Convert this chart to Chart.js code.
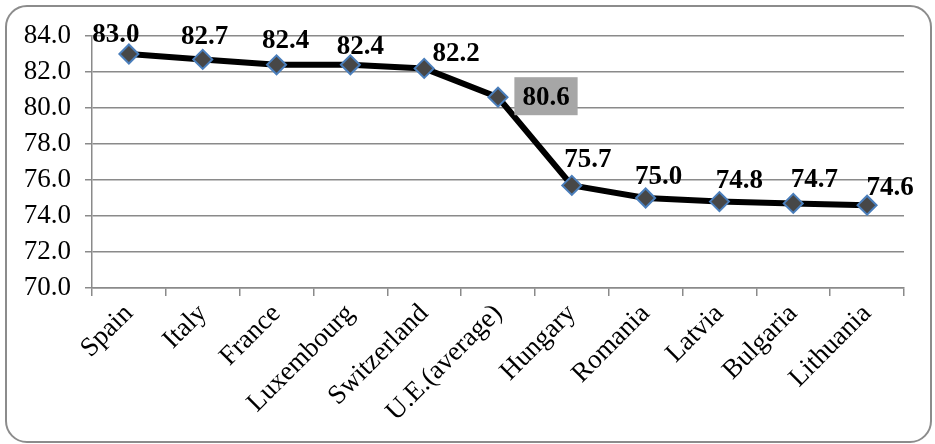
<!DOCTYPE html>
<html>
<head>
<meta charset="utf-8">
<script src="https://cdn.jsdelivr.net/npm/chart.js@4/dist/chart.umd.min.js"></script>
<style>
  html, body { margin: 0; padding: 0; background: #fff; }
  #wrap { width: 935px; height: 444px; position: relative; }
</style>
</head>
<body>
<div id="wrap"><canvas id="c" width="935" height="444"></canvas></div>
<script>
// Life expectancy by country (years)
const countries = ['Spain', 'Italy', 'France', 'Luxembourg', 'Switzerland', 'U.E.(average)',
                   'Hungary', 'Romania', 'Latvia', 'Bulgaria', 'Lithuania'];
const lifeExpectancy = [83.0, 82.7, 82.4, 82.4, 82.2, 80.6, 75.7, 75.0, 74.8, 74.7, 74.6];
const yTicks = [70, 72, 74, 76, 78, 80, 82, 84];

// value label placement: [text centre dx, baseline dy] from the marker, in pixels
const labelShift = [[-13, -12], [2, -15], [9, -17], [10, -11], [32, -7], [48, 8],
                    [16, -18], [13, -14], [20, -14], [21, -16], [23, -10]];
const highlighted = 5; // EU average label gets a shaded box

const FONT = '"Liberation Serif", "Times New Roman", serif';

const frame = {
  id: 'frame',
  beforeDraw(chart) {
    const ctx = chart.ctx;
    ctx.save();
    ctx.fillStyle = '#fff';
    ctx.fillRect(0, 0, chart.width, chart.height);
    ctx.beginPath();
    ctx.roundRect(6, 6, 925, 436, 21);
    ctx.lineWidth = 2;
    ctx.strokeStyle = '#8c8c8c';
    ctx.stroke();
    ctx.restore();
  }
};

const valueLabels = {
  id: 'valueLabels',
  afterDatasetsDraw(chart) {
    const ctx = chart.ctx;
    const meta = chart.getDatasetMeta(0);
    const data = chart.data.datasets[0].data;
    ctx.save();
    ctx.font = 'bold 27px ' + FONT;
    ctx.textAlign = 'center';
    ctx.textBaseline = 'alphabetic';
    meta.data.forEach((pt, i) => {
      const txt = data[i].toFixed(1);
      const x = pt.x + labelShift[i][0];
      const y = pt.y + labelShift[i][1];
      if (i === highlighted) {
        const w = ctx.measureText(txt).width + 16;
        ctx.fillStyle = '#a6a6a6';
        ctx.fillRect(x - w / 2, y - 28, w, 38);
      }
      ctx.fillStyle = '#000';
      ctx.fillText(txt, x, y);
    });
    ctx.restore();
  }
};

new Chart(document.getElementById('c'), {
  type: 'line',
  data: {
    labels: countries,
    datasets: [{
      data: lifeExpectancy,
      borderColor: '#000',
      borderWidth: 6,
      borderJoinStyle: 'round',
      tension: 0,
      pointStyle: 'rectRot',
      pointRadius: 9.5,
      pointHoverRadius: 9.5,
      pointBackgroundColor: '#474747',
      pointBorderColor: '#4a7ebb',
      pointBorderWidth: 2
    }]
  },
  options: {
    responsive: false,
    animation: false,
    events: [],
    layout: { padding: { left: 0, top: 36, right: 31, bottom: 0 } },
    plugins: { legend: { display: false }, tooltip: { enabled: false } },
    scales: {
      x: {
        offset: true,
        grid: {
          offset: true,
          drawOnChartArea: false,
          drawTicks: true,
          tickLength: 8,
          color: '#8a8a8a',
          lineWidth: 1.5
        },
        border: { display: true, color: '#8a8a8a', width: 1.5 },
        ticks: {
          color: '#000',
          font: { family: FONT, size: 27 },
          maxRotation: 45,
          minRotation: 45,
          autoSkip: false,
          padding: 2
        },
        afterFit(s) { s.height = 156; }
      },
      y: {
        min: 70,
        max: 84,
        afterBuildTicks(s) { s.ticks = yTicks.map(v => ({ value: v })); },
        grid: {
          color: '#8a8a8a',
          lineWidth: 1.5,
          drawTicks: true,
          tickLength: 7
        },
        border: { display: true, color: '#8a8a8a', width: 1.5 },
        ticks: {
          color: '#000',
          font: { family: FONT, size: 27 },
          padding: 14,
          callback: v => Number(v).toFixed(1)
        },
        afterFit(s) { s.width = 92; }
      }
    }
  },
  plugins: [frame, valueLabels]
});
</script>
</body>
</html>
